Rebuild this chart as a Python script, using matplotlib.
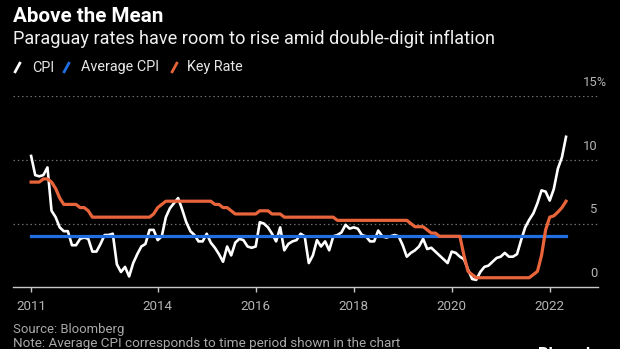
import numpy as np
import matplotlib
matplotlib.use("Agg")
import matplotlib.pyplot as plt
from matplotlib.lines import Line2D

# ---------------- data (monthly, June 2011 .. May 2022) ----------------
start_year = 2011 + 5 / 12  # first observation (June 2011)

cpi = [
    10.3, 8.8, 8.7, 8.8, 9.4, 6.0, 5.5, 4.7, 4.4, 4.4,
    3.3, 3.3, 3.8, 3.9, 3.8, 2.8, 2.8, 3.4, 4.1, 4.1,
    4.2, 1.8, 1.2, 1.6, 0.85, 1.9, 2.6, 3.2, 3.4, 4.5,
    4.5, 3.7, 4.0, 5.5, 6.2, 6.6, 7.0, 6.1, 5.1, 4.4,
    4.1, 3.6, 3.6, 4.2, 3.5, 3.1, 2.6, 2.0, 3.2, 2.5,
    3.5, 3.8, 3.7, 3.2, 3.1, 3.2, 5.1, 5.0, 4.7, 4.2,
    3.6, 4.7, 2.9, 3.4, 3.6, 3.7, 4.2, 4.0, 1.9, 2.5,
    3.7, 3.2, 3.6, 2.9, 4.0, 4.1, 4.3, 4.9, 4.6, 4.7,
    4.6, 4.1, 4.0, 3.6, 3.6, 4.45, 4.0, 3.9, 4.0, 4.1,
    4.0, 3.3, 2.4, 2.7, 2.9, 3.2, 3.8, 3.0, 3.1, 2.8,
    2.5, 2.2, 1.9, 2.8, 2.7, 2.4, 2.2, 1.4, 0.65, 0.58,
    1.2, 1.6, 1.7, 2.0, 2.3, 2.4, 2.7, 2.4, 2.4, 2.6,
    3.7, 4.7, 5.3, 5.8, 6.6, 7.6, 7.5, 6.8, 7.7, 9.3,
    10.2, 11.8,
]

key_rate = [
    8.25, 8.25, 8.25, 8.5, 8.5, 8.25, 7.75, 7.0, 6.5, 6.5,
    6.5, 6.5, 6.25, 6.25, 6.0, 5.5, 5.5, 5.5, 5.5, 5.5,
    5.5, 5.5, 5.5, 5.5, 5.5, 5.5, 5.5, 5.5, 5.5, 5.5,
    5.75, 6.25, 6.5, 6.75, 6.75, 6.75, 6.75, 6.75, 6.75, 6.75,
    6.75, 6.75, 6.75, 6.75, 6.75, 6.5, 6.5, 6.25, 6.25, 6.0,
    5.75, 5.75, 5.75, 5.75, 5.75, 5.75, 6.0, 6.0, 6.0, 5.75,
    5.75, 5.75, 5.5, 5.5, 5.5, 5.5, 5.5, 5.5, 5.5, 5.5,
    5.5, 5.5, 5.5, 5.5, 5.5, 5.25, 5.25, 5.25, 5.25, 5.25,
    5.25, 5.25, 5.25, 5.25, 5.25, 5.25, 5.25, 5.25, 5.25, 5.25,
    5.25, 5.25, 5.25, 5.0, 4.75, 4.75, 4.75, 4.5, 4.25, 4.25,
    4.0, 4.0, 4.0, 4.0, 4.0, 4.0, 2.5, 1.25, 1.0, 0.75,
    0.75, 0.75, 0.75, 0.75, 0.75, 0.75, 0.75, 0.75, 0.75, 0.75,
    0.75, 0.75, 0.75, 1.0, 1.25, 2.5, 4.5, 5.5, 5.6, 5.9,
    6.25, 6.75,
]

avg_cpi = 4.0

x_tick_years = [start_year, 2014, 2016, 2018, 2020, 2022]
x_tick_labels = ["2011", "2014", "2016", "2018", "2020", "2022"]
y_ticks = [0, 5, 10, 15]
y_tick_labels = ["0", "5", "10", "15"]

series_names = ["CPI", "Average CPI", "Key Rate"]
colors = ["#ffffff", "#1f6fe0", "#e8643a"]

title = "Above the Mean"
subtitle = "Paraguay rates have room to rise amid double-digit inflation"
source = "Source: Bloomberg"
note = "Note: Average CPI corresponds to time period shown in the chart"

# ---------------- figure ----------------
W, H = 620, 349
FONT = ["Roboto", "DejaVu Sans"]
plt.rcParams["font.family"] = FONT

fig = plt.figure(figsize=(W / 100, H / 100), dpi=100, facecolor="black")
renderer = fig.canvas.get_renderer()


def fx(x):
    return x / W


def fy(y):
    return 1 - y / H


def fit_size(s, target_w, weight="normal", base=12):
    t = fig.text(0, 0, s, fontsize=base, weight=weight)
    w = t.get_window_extent(renderer).width
    t.remove()
    return base * target_w / w


ax_left, ax_right, ax_top, ax_bot = 13.3, 597.7, 96.0, 287.3
ax = fig.add_axes([fx(ax_left), fy(ax_bot), (ax_right - ax_left) / W, (ax_bot - ax_top) / H])
ax.set_facecolor("black")

t = start_year + np.arange(len(cpi)) / 12.0
ax.plot(t, cpi, color=colors[0], lw=1.9, solid_joinstyle="round", zorder=3)
ax.plot(t, np.full(len(cpi), avg_cpi), color=colors[1], lw=2.3, zorder=4)
ax.plot(t, key_rate, color=colors[2], lw=2.3, solid_joinstyle="round", zorder=5)

px_per_year = 49.0
x_left = 2014 - (157.7 - ax_left) / px_per_year
x_right = 2014 + (ax_right - 157.7) / px_per_year
ax.set_xlim(x_left, x_right)
ax.set_ylim(0, 15)

for v in y_ticks[1:]:
    ax.axhline(v, color="#6e6e6e", lw=0.9, ls=(0, (1.2, 2.2)), zorder=1)

for s in ["top", "right", "left"]:
    ax.spines[s].set_visible(False)
ax.spines["bottom"].set_color("#c8c8c8")
ax.spines["bottom"].set_linewidth(1.0)
ax.set_yticks([])

tick_fs = fit_size("2011", 30)
ax.set_xticks(x_tick_years)
ax.set_xticklabels(x_tick_labels, fontsize=tick_fs, color="#b4b4b4")
ax.tick_params(axis="x", colors="#c8c8c8", labelcolor="#b4b4b4", length=3.8, width=1.0, pad=5.5)

ylab_fs = fit_size("10", 14.5)
for v, lab in zip(y_ticks, y_tick_labels):
    ax.annotate(lab, xy=(1.0, v), xycoords=("axes fraction", "data"),
                xytext=(0, 9.8), textcoords="offset points",
                ha="right", va="center", fontsize=ylab_fs, color="#b4b4b4")
ax.annotate("%", xy=(1.0, y_ticks[-1]), xycoords=("axes fraction", "data"),
            xytext=(-0.9, 9.8), textcoords="offset points",
            ha="left", va="center", fontsize=ylab_fs * 0.95, color="#b4b4b4")

# ---------------- titles ----------------
fig.text(fx(13), fy(16), title, fontsize=fit_size(title, 150, "bold"),
         weight="bold", color="white", va="center", ha="left")
fig.text(fx(13), fy(39), subtitle, fontsize=fit_size(subtitle, 481),
         color="#f0f0f0", va="center", ha="left")

# ---------------- legend ----------------
leg_fs = fit_size("Average CPI", 78)
leg_items = [(14.5, 32), (63.5, 81), (171.5, 187)]
for (sx, tx), name, c in zip(leg_items, series_names, colors):
    fig.add_artist(Line2D([fx(sx), fx(sx + 6)], [fy(73), fy(62)],
                          transform=fig.transFigure, color=c, lw=2.0,
                          solid_capstyle="butt"))
    fig.text(fx(tx), fy(67.5), name, fontsize=leg_fs, color="#e6e6e6",
             va="center", ha="left")

# ---------------- footer ----------------
fig.text(fx(13), fy(330), source, fontsize=fit_size(source, 111), color="#a8a8a8",
         va="center", ha="left")
fig.text(fx(13), fy(344), note, fontsize=fit_size(note, 386), color="#a8a8a8",
         va="center", ha="left")
fig.text(fx(538), fy(346.5), "Bloomberg", fontsize=12, weight="bold",
         color="white", va="top", ha="left")

fig.savefig("out.png", dpi=100, facecolor="black")
